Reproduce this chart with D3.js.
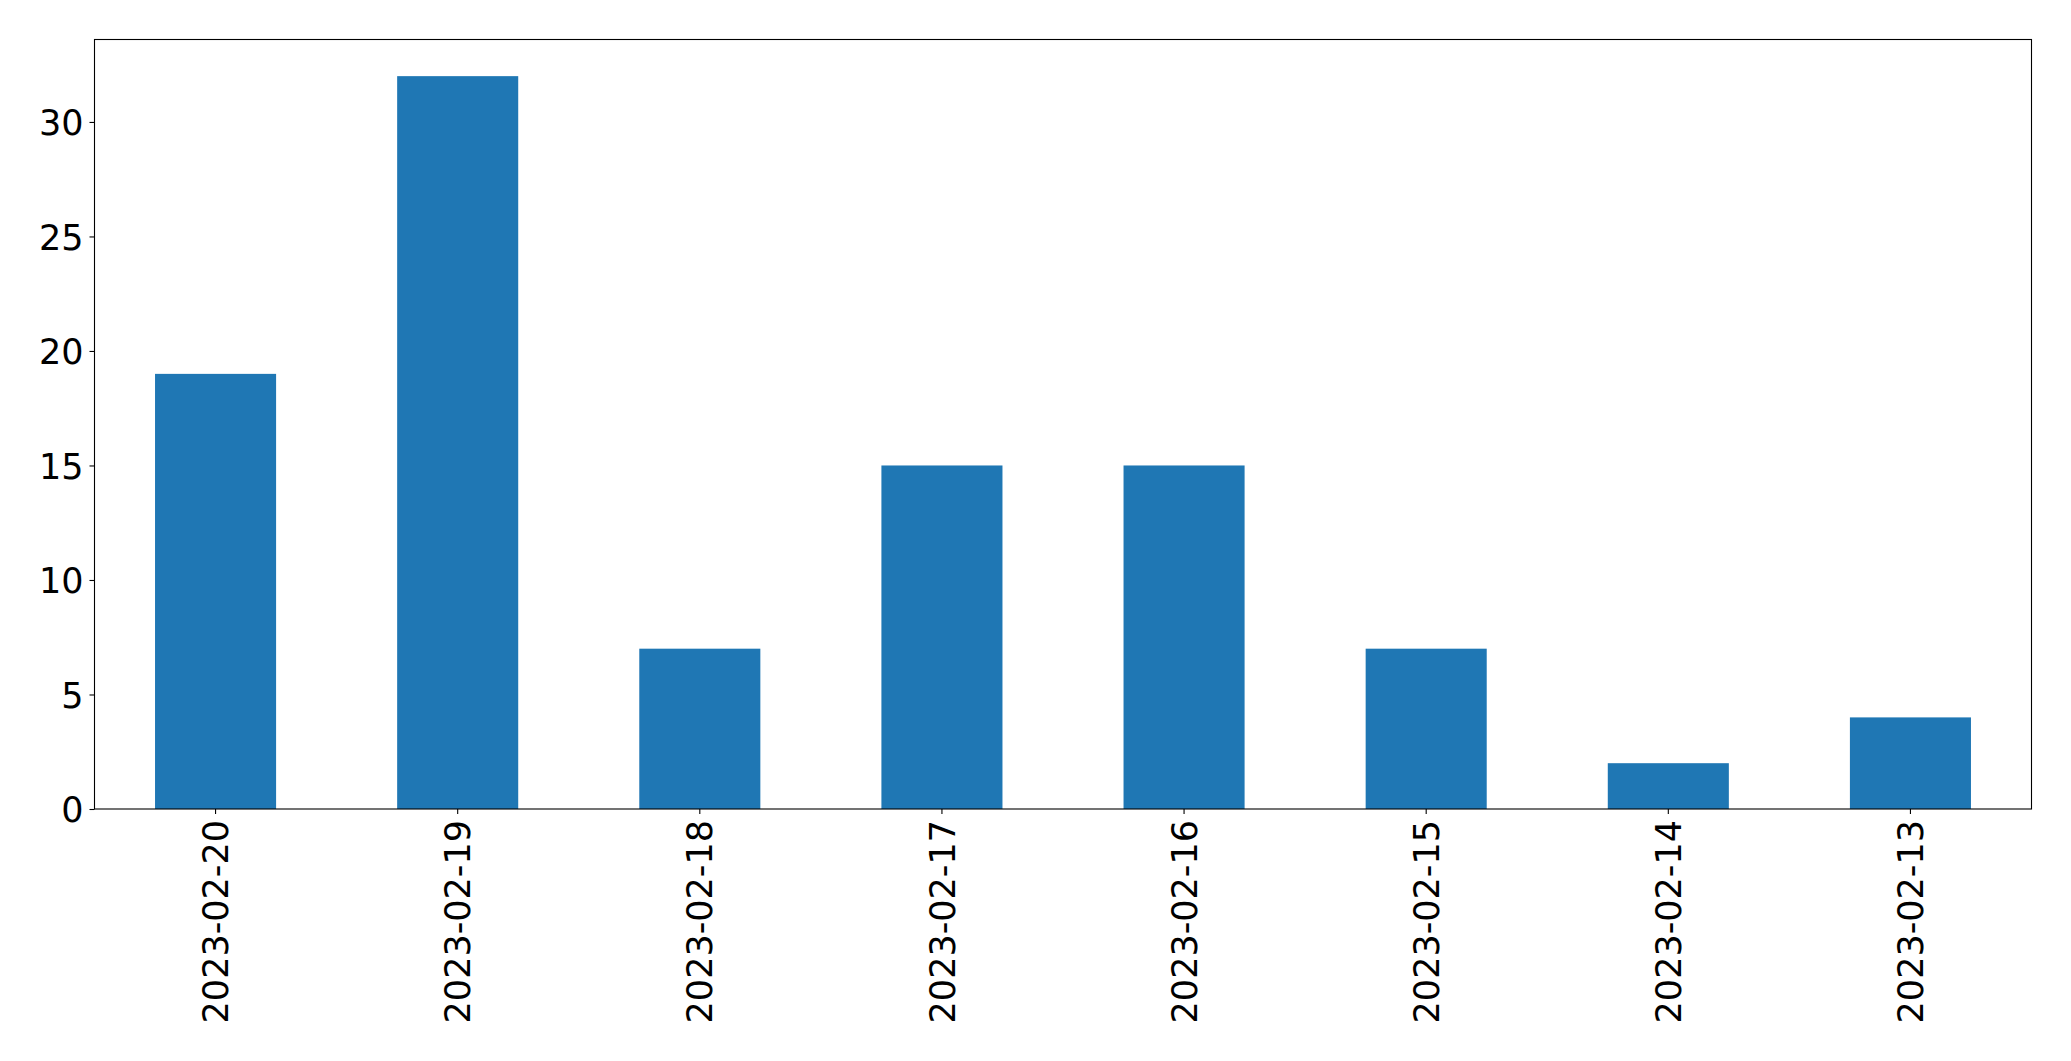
<!DOCTYPE html>
<html><head><meta charset="utf-8">
<script src="https://cdn.jsdelivr.net/npm/d3@7"></script>
<style>html,body{margin:0;padding:0;background:#fff;}svg{display:block;}</style>
</head><body>
<script>
const categories = ["2023-02-20","2023-02-19","2023-02-18","2023-02-17","2023-02-16","2023-02-15","2023-02-14","2023-02-13"];
const values = [19, 32, 7, 15, 15, 7, 2, 4];
const yTicks = [0, 5, 10, 15, 20, 25, 30];

const W = 2071, H = 1061;
const m = {left: 94.5, right: 2031.5, top: 39.5, bottom: 809};
const fontSize = 35;
const fontFamily = "'DejaVu Sans', sans-serif";

const svg = d3.select("body").append("svg").attr("width", W).attr("height", H);

const x = d3.scaleBand().domain(categories).range([m.left, m.right]).paddingInner(0.5).paddingOuter(0.25);
const y = d3.scaleLinear().domain([0, d3.max(values) * 1.05]).range([m.bottom, m.top]);

svg.append("g").selectAll("rect").data(values).join("rect")
  .attr("x", (d, i) => x(categories[i]))
  .attr("width", x.bandwidth())
  .attr("y", d => y(d))
  .attr("height", d => y(0) - y(d))
  .attr("fill", "#1f77b4");

// frame
svg.append("rect").attr("x", m.left).attr("y", m.top)
  .attr("width", m.right - m.left).attr("height", m.bottom - m.top)
  .attr("fill", "none").attr("stroke", "#000").attr("stroke-width", 1.1);

// y axis
const yAxis = d3.axisLeft(y).tickValues(yTicks).tickSize(5).tickPadding(6).tickFormat(d3.format("d"));
const gy = svg.append("g").attr("transform", `translate(${m.left},0)`).call(yAxis);
gy.select(".domain").remove();
gy.selectAll(".tick line").attr("stroke", "#000").attr("stroke-width", 1.1);
gy.selectAll(".tick text").attr("font-size", fontSize).attr("font-family", fontFamily).attr("fill", "#000").attr("dy", "0.36em");

// x axis
const xAxis = d3.axisBottom(x).tickSize(5).tickPadding(0);
const gx = svg.append("g").attr("transform", `translate(0,${m.bottom})`).call(xAxis);
gx.select(".domain").remove();
gx.selectAll(".tick line").attr("stroke", "#000").attr("stroke-width", 1.1);
gx.selectAll(".tick text")
  .attr("font-size", fontSize).attr("font-family", fontFamily).attr("fill", "#000")
  .attr("text-anchor", "end")
  .attr("transform", "translate(0,11) rotate(-90)")
  .attr("x", 0).attr("y", 0).attr("dy", "0.36em");
</script>
</body></html>
